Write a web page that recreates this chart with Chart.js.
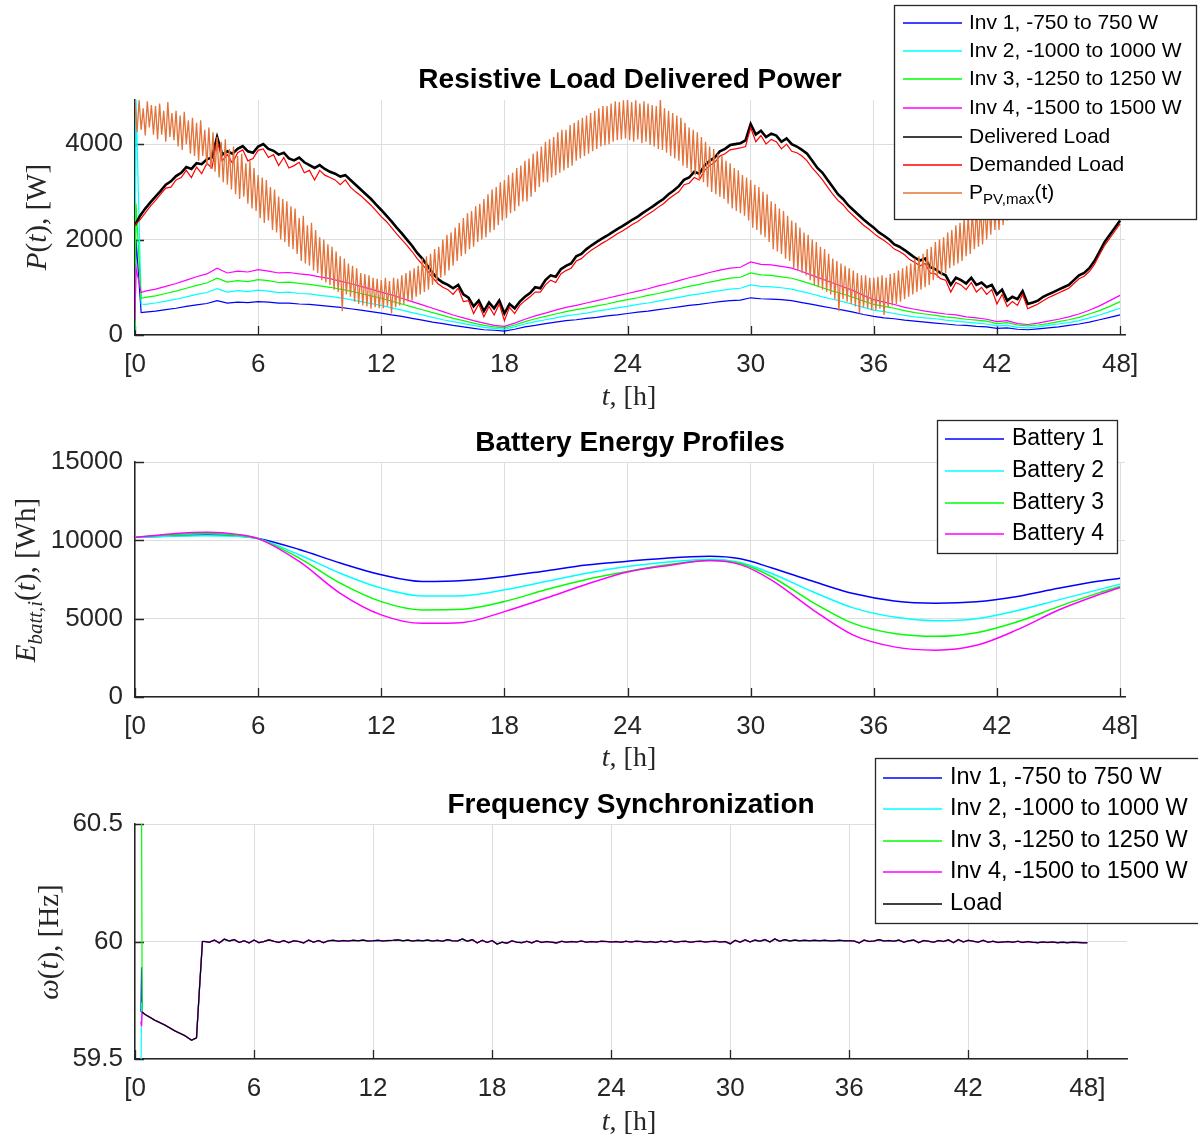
<!DOCTYPE html>
<html>
<head>
<meta charset="utf-8">
<script src="https://cdn.jsdelivr.net/npm/chart.js@4.4.1/dist/chart.umd.min.js"></script>
<style>
  body { margin: 0; background: #fff; width: 1198px; height: 1144px; position: relative; overflow: hidden; }
  canvas { position: absolute; left: 0; }
</style>
</head>
<body>
<canvas id="c1" width="1198" height="410" style="top:0px"></canvas>
<canvas id="c2" width="1198" height="365" style="top:410px"></canvas>
<canvas id="c3" width="1198" height="394" style="top:750px"></canvas>
<script>
// ---- axis ticks ----
const xTicks = [0, 6, 12, 18, 24, 30, 36, 42, 48];
const xTickLabels = ['[0', '6', '12', '18', '24', '30', '36', '42', '48]'];
const powerTicks = [0, 2000, 4000];
const energyTicks = [0, 5000, 10000, 15000];
const freqTicks = [59.5, 60, 60.5];
const freqTickLabels = ['59.5', '60', '60.5'];

// ---- chart 1: power [W] ----
// PV max power, every 0.1 h from t = 0
const pvStep = 0.1;
const pvMax = [
  4880, 4250, 4920, 4300, 4750, 4180, 4900, 4350, 4820, 4200,
  4800, 4100, 4850, 4200, 4700, 4050, 4880, 4150, 4650, 4080,
  4700, 3950, 4600, 3880, 4680, 4000, 4500, 3800, 4550, 3750,
  4450, 3650, 4500, 3750, 4300, 3550, 4350, 3480, 4250, 3420,
  4150, 3300, 4050, 3200, 4100, 3150, 3900, 3050, 3950, 2950,
  3750, 2850, 3800, 2900, 3600, 2750, 3650, 2650, 3500, 2600,
  3350, 2450, 3300, 2350, 3250, 2400, 3100, 2200, 3050, 2150,
  2900, 2000, 2850, 1950, 2800, 1850, 2700, 1800, 2650, 1700,
  2450, 1550, 2500, 1500, 2300, 1450, 2350, 1350, 2200, 1300,
  2050, 1150, 2000, 1100, 1900, 1050, 1850, 950, 1750, 900,
  1650, 500, 1600, 850, 1500, 800, 1450, 700, 1400, 650,
  1300, 620, 1280, 600, 1250, 550, 1200, 580, 1180, 560,
  1150, 560, 1200, 600, 1130, 450, 1200, 580, 1180, 620,
  1250, 650, 1300, 700, 1350, 720, 1400, 800, 1450, 850,
  1600, 900, 1650, 950, 1700, 1050, 1800, 1100, 1850, 1200,
  2000, 1250, 2100, 1350, 2150, 1450, 2250, 1550, 2350, 1650,
  2450, 1700, 2550, 1800, 2600, 1850, 2700, 1950, 2750, 2000,
  2850, 2050, 2950, 2150, 3050, 2200, 3100, 2300, 3200, 2400,
  3250, 2450, 3350, 2550, 3400, 2600, 3500, 2700, 3550, 2800,
  3650, 2800, 3700, 2900, 3800, 3000, 3850, 3100, 3950, 3200,
  4050, 3200, 4100, 3300, 4150, 3350, 4250, 3400, 4300, 3450,
  4300, 3500, 4400, 3550, 4450, 3650, 4500, 3700, 4550, 3750,
  4600, 3800, 4650, 3850, 4700, 3900, 4750, 3950, 4800, 3980,
  4800, 4000, 4850, 4050, 4900, 4080, 4880, 4100, 4920, 4120,
  4950, 4080, 4880, 4050, 4920, 4100, 4850, 4020, 4900, 4050,
  4850, 3980, 4820, 3950, 4800, 3900, 4950, 3880, 4750, 3820,
  4700, 3750, 4650, 3700, 4600, 3650, 4550, 3550, 4450, 3500,
  4350, 3400, 4300, 3350, 4250, 3250, 4150, 3200, 4050, 3100,
  3950, 3000, 3900, 2950, 3800, 2900, 3750, 2850, 3650, 2750,
  3600, 2650, 3500, 2600, 3450, 2550, 3350, 2500, 3300, 2400,
  3250, 2250, 3150, 2200, 3100, 2100, 3000, 2050, 2950, 1950,
  2800, 1800, 2750, 1750, 2650, 1700, 2600, 1600, 2500, 1550,
  2400, 1400, 2350, 1350, 2250, 1300, 2150, 1250, 2100, 1150,
  2000, 1050, 1950, 1000, 1850, 950, 1800, 900, 1700, 850,
  1600, 750, 1550, 500, 1500, 750, 1450, 700, 1400, 650,
  1350, 600, 1300, 450, 1250, 580, 1250, 550, 1200, 520,
  1200, 520, 1220, 550, 1250, 420, 1200, 580, 1280, 620,
  1300, 650, 1350, 700, 1400, 750, 1450, 800, 1500, 850,
  1600, 900, 1650, 950, 1700, 1000, 1800, 1050, 1850, 1150,
  1950, 1200, 2000, 1250, 2050, 1300, 2150, 1400, 2200, 1450,
  2300, 1500, 2350, 1550, 2450, 1650, 2500, 1700, 2600, 1800,
  2650, 1850, 2700, 1900, 2800, 2000, 2850, 2100, 2950, 2200,
  3000, 2200, 3100, 2300, 3150, 2400, 3250, 2450, 3300, 2550,
  3220, 2750, 3300, 2820, 3380, 2900, 3450, 2980, 3520, 3050,
  3580, 3100, 3650, 3180, 3720, 3250, 3800, 3320, 3880, 3400,
  3920, 3450, 4000, 3520, 4060, 3580, 4120, 3650, 4180, 3700,
  4220, 3750, 4280, 3800, 4330, 3850, 4380, 3900, 4430, 3950,
  4470, 4000, 4520, 4050, 4560, 4100, 4600, 4120, 4650, 4150,
  4680
];

// delivered and demanded load, every 0.25 h from t = 0
const loadStep = 0.25;
const deliveredLoad = [
  2300, 2500, 2650, 2780, 2900, 3020, 3150, 3220, 3330, 3400, 3520, 3480,
  3600, 3580, 3680, 3720, 4150, 3780, 3850, 3800, 3900, 3960, 3850, 3820,
  3950, 4000, 3900, 3860, 3780, 3820, 3700, 3660, 3720, 3620, 3560, 3500,
  3560, 3480, 3420, 3380, 3320, 3350, 3250, 3150, 3050, 2950, 2850, 2730,
  2620, 2500, 2380, 2250, 2130, 2000, 1870, 1720, 1600, 1450, 1300, 1180,
  1100, 1050, 980, 1050, 850, 780, 600, 720, 500, 680, 560, 720,
  450, 650, 560, 700, 800, 880, 1000, 980, 1150, 1250, 1220, 1380,
  1450, 1500, 1650, 1700, 1800, 1880, 1950, 2020, 2080, 2150, 2220, 2280,
  2350, 2420, 2480, 2560, 2630, 2700, 2780, 2850, 2950, 3030, 3120, 3250,
  3300, 3420, 3380, 3550, 3650, 3720, 3850, 3900, 3980, 4000, 4020, 4080,
  4420, 4200, 4280, 4150, 4220, 4180, 4050, 4120, 4000, 3950, 3880, 3800,
  3650, 3500, 3400, 3250, 3100, 2950, 2850, 2720, 2620, 2520, 2420, 2330,
  2250, 2150, 2080, 2000, 1900, 1850, 1780, 1700, 1620, 1560, 1600, 1420,
  1380, 1300, 1250, 1050, 1200, 1150, 1080, 1200, 1050, 1100, 1000, 1050,
  850, 950, 720, 800, 750, 920, 650, 680, 720, 800, 850, 900,
  950, 1000, 1050, 1150, 1250, 1300, 1400, 1550, 1750, 1950, 2100, 2250,
  2400
];
const demandedLoad = [
  2300, 2420, 2560, 2700, 2820, 2950, 3080, 3100, 3250, 3300, 3450, 3300,
  3520, 3380, 3600, 3500, 4100, 3650, 3780, 3600, 3820, 3880, 3650, 3700,
  3870, 3900, 3720, 3780, 3550, 3720, 3500, 3550, 3620, 3400, 3450, 3250,
  3450, 3350, 3300, 3250, 3150, 3250, 3100, 3000, 2920, 2820, 2720, 2600,
  2480, 2380, 2250, 2120, 2000, 1880, 1750, 1600, 1480, 1350, 1200, 1080,
  1000, 950, 850, 980, 700, 720, 450, 650, 380, 600, 420, 650,
  300, 580, 450, 620, 720, 800, 900, 900, 1050, 1150, 1100, 1280,
  1350, 1400, 1550, 1600, 1700, 1780, 1850, 1920, 1980, 2050, 2120, 2180,
  2250, 2320, 2380, 2460, 2530, 2600, 2680, 2750, 2850, 2930, 3000, 3150,
  3180, 3300, 3250, 3450, 3550, 3620, 3750, 3800, 3880, 3900, 3920, 3950,
  4350, 4050, 4180, 4000, 4100, 4050, 3900, 4000, 3850, 3820, 3750, 3650,
  3500, 3380, 3250, 3100, 2950, 2820, 2730, 2600, 2500, 2400, 2300, 2220,
  2130, 2050, 1980, 1900, 1800, 1750, 1680, 1580, 1520, 1450, 1500, 1300,
  1280, 1180, 1150, 900, 1100, 1050, 950, 1100, 900, 1000, 850, 950,
  650, 850, 600, 700, 620, 850, 550, 600, 650, 720, 780, 830,
  880, 930, 980, 1080, 1180, 1230, 1330, 1480, 1680, 1880, 2030, 2180,
  2330
];

// inverter power: start transient, then every 0.5 h from t = 0.5
const invStartT = [0, 0.05, 0.3];
const inv1Start = [100, 2000, 470];
const inv2Start = [100, 4950, 650];
const inv3Start = [100, 2750, 770];
const inv4Start = [300, 1400, 890];
const invStep = 0.5;
const inv1Power = [
  480, 500, 530, 560, 600, 630, 660, 720, 670, 690, 680, 700, 690, 670, 670, 650,
  640, 620, 600, 580, 550, 520, 490, 460, 420, 390, 350, 310, 270, 240, 200, 170,
  140, 110, 100, 80, 120, 170, 200, 240, 270, 300, 320, 350, 370, 400, 420, 450,
  480, 500, 530, 560, 590, 620, 640, 670, 700, 720, 730, 780, 760, 750, 740, 720,
  680, 640, 600, 560, 520, 480, 430, 390, 360, 340, 310, 290, 270, 250, 230, 210,
  200, 180, 170, 140, 150, 120, 110, 130, 150, 170, 200, 230, 270, 320, 370, 420
];
const inv2Power = [
  640, 670, 710, 750, 800, 850, 890, 970, 900, 930, 910, 940, 920, 890, 900, 870,
  860, 830, 810, 780, 740, 700, 660, 620, 570, 520, 470, 420, 370, 320, 280, 240,
  200, 160, 140, 120, 170, 230, 280, 320, 360, 400, 430, 460, 500, 530, 570, 600,
  640, 670, 710, 750, 790, 830, 860, 900, 930, 960, 980, 1050, 1020, 1010, 990, 960,
  910, 860, 800, 750, 700, 640, 580, 520, 490, 450, 410, 380, 360, 340, 310, 290,
  270, 250, 230, 190, 200, 160, 150, 170, 200, 230, 260, 300, 360, 420, 490, 560
];
const inv3Power = [
  790, 820, 870, 920, 980, 1040, 1090, 1190, 1110, 1140, 1120, 1160, 1140, 1100, 1110, 1080,
  1060, 1030, 1000, 960, 920, 870, 820, 770, 710, 650, 590, 530, 470, 410, 350, 300,
  250, 200, 170, 150, 210, 280, 340, 390, 440, 490, 530, 570, 610, 650, 700, 740,
  780, 830, 870, 920, 970, 1020, 1060, 1110, 1150, 1190, 1210, 1300, 1260, 1250, 1220, 1190,
  1130, 1060, 990, 920, 860, 790, 710, 640, 600, 560, 510, 470, 440, 410, 380, 360,
  330, 310, 290, 240, 260, 210, 190, 210, 240, 280, 320, 370, 440, 510, 600, 700
];
const inv4Power = [
  920, 960, 1020, 1080, 1150, 1220, 1280, 1400, 1300, 1340, 1320, 1370, 1340, 1300, 1310, 1280,
  1260, 1220, 1180, 1130, 1080, 1020, 960, 900, 840, 770, 700, 630, 560, 490, 420, 360,
  300, 250, 200, 180, 250, 330, 400, 460, 520, 580, 620, 670, 720, 770, 820, 870,
  920, 970, 1030, 1080, 1140, 1200, 1250, 1310, 1360, 1400, 1420, 1530, 1480, 1470, 1440, 1400,
  1330, 1250, 1170, 1090, 1010, 930, 830, 740, 690, 640, 580, 540, 500, 470, 440, 420,
  380, 360, 330, 280, 300, 240, 220, 250, 290, 330, 380, 440, 520, 610, 720, 830
];

// ---- chart 2: battery energy [Wh] ----
const batteryT = [0, 2, 3.5, 5, 6, 8, 10, 12, 14, 16, 18, 20, 22, 24, 26, 28, 29.5, 31, 33, 35, 37, 39, 41, 43, 45, 47, 48];
const battery1 = [10190, 10300, 10340, 10280, 10120, 9420, 8550, 7800, 7370, 7430, 7690, 8050, 8420, 8660, 8880, 8980, 8820, 8250, 7400, 6600, 6130, 5990, 6080, 6420, 6940, 7400, 7580];
const battery2 = [10190, 10270, 10300, 10260, 10110, 9080, 7900, 6950, 6450, 6470, 6840, 7370, 7900, 8330, 8620, 8800, 8580, 7900, 6730, 5690, 5100, 4870, 5000, 5520, 6200, 6870, 7200];
const battery3 = [10190, 10380, 10430, 10330, 10110, 8870, 7270, 6090, 5560, 5600, 6090, 6840, 7500, 8010, 8450, 8710, 8520, 7690, 6060, 4700, 4050, 3870, 4100, 4800, 5770, 6660, 7050];
const battery4 = [10190, 10440, 10510, 10380, 10110, 8650, 6620, 5240, 4700, 4760, 5450, 6300, 7200, 7980, 8400, 8720, 8450, 7480, 5600, 3950, 3200, 2990, 3300, 4300, 5550, 6550, 6990];

// ---- chart 3: frequency [Hz] ----
const freqSpikeT = [0.30, 0.33, 0.36];
const freqInv1Spike = [59.70, 59.89, 59.70];
const freqInv2Spike = [59.40, 59.74, 59.70];
const freqInv3Spike = [60.60, 60.60, 59.70];
const freqInv4Spike = [59.66, 59.64, 59.70];
const freqStartT = [0.36, 0.5, 1.0, 1.5, 2.0, 2.5, 2.85, 3.1, 3.25, 3.4];
const freqStart = [59.70, 59.69, 59.665, 59.645, 59.62, 59.60, 59.58, 59.59, 59.80, 60.00];
// steady part, every 0.25 h from t = 3.5
const freqStep = 0.25;
const freqSteady = [
  60.000, 59.997,
  60.006, 59.994, 60.010, 60.002, 60.008, 59.996, 60.003, 59.994,
  60.006, 59.995, 60.000, 60.007, 60.001, 59.996, 60.004, 59.995,
  60.003, 60.000, 59.994, 60.006, 59.997, 60.004, 59.995, 60.003,
  60.005, 60.001, 60.004, 60.002, 60.005, 60.003, 60.006, 60.002,
  60.003, 60.005, 60.002, 60.004, 60.005, 60.007, 60.003, 60.006,
  60.002, 60.005, 60.003, 60.006, 60.002, 60.005, 60.001, 60.008,
  60.003, 60.002, 60.011, 60.001, 60.008, 59.994, 60.005, 59.996,
  60.004, 59.989, 59.997, 59.993, 60.003, 59.997, 59.995, 60.001,
  59.994, 60.003, 59.996, 60.000, 59.997, 59.994, 60.001, 59.997,
  60.000, 59.998, 60.002, 59.997, 60.000, 59.998, 60.001, 60.000,
  59.998, 60.000, 59.997, 60.001, 59.998, 60.001, 60.000, 59.997,
  60.000, 59.996, 60.001, 59.998, 60.002, 59.997, 60.000, 60.001,
  59.997, 60.000, 60.001, 59.998, 60.000, 60.001, 59.998, 60.000,
  59.990, 60.005, 59.997, 60.007, 59.998, 60.006, 60.001, 60.008,
  59.998, 60.011, 60.001, 60.008, 60.002, 60.006, 60.003, 60.005,
  60.003, 60.005, 60.003, 60.005, 60.003, 60.003, 60.005, 60.003,
  60.003, 60.002, 59.994, 60.006, 60.000, 60.002, 60.008, 60.002,
  60.004, 60.001, 60.006, 59.997, 60.003, 60.006, 59.995, 60.004,
  60.001, 59.997, 60.004, 60.000, 60.007, 59.995, 60.008, 59.998,
  60.005, 60.001, 59.997, 60.005, 59.997, 60.001, 59.996, 59.998,
  60.000, 59.997, 60.001, 59.996, 60.000, 59.997, 59.995, 59.998,
  59.996, 59.998, 59.995, 59.997, 59.995, 59.997, 59.996, 59.995,
  59.995
];

// ---- helpers ----
const SANS = '"Liberation Sans", Arial, Helvetica, sans-serif';
const SERIF = '"Liberation Serif", "Times New Roman", serif';
const AXIS_COLOR = '#262626';

function series(t0, step, values) {
  return values.map((v, i) => ({ x: t0 + i * step, y: v }));
}
function pairs(times, values) {
  return times.map((t, i) => ({ x: t, y: values[i] }));
}

function line(label, data, color, width, order, extra) {
  return Object.assign({
    label: label, data: data, borderColor: color, backgroundColor: color,
    borderWidth: width, pointRadius: 0, fill: false, tension: 0, order: order
  }, extra || {});
}

function richText(ctx, parts, x, y, size, family, align) {
  const items = parts.map(p => {
    const s = (p.sub || p.sup) ? size * 0.72 : size;
    const font = (p.it ? 'italic ' : '') + s + 'px ' + family;
    ctx.font = font;
    return { t: p.t, font: font, w: ctx.measureText(p.t).width, dy: p.sub ? size * 0.33 : (p.sup ? -size * 0.35 : 0) };
  });
  const total = items.reduce((s, i) => s + i.w, 0);
  let cx = align === 'center' ? x - total / 2 : x;
  ctx.textAlign = 'left';
  ctx.textBaseline = 'middle';
  items.forEach(i => { ctx.font = i.font; ctx.fillText(i.t, cx, y + i.dy); cx += i.w; });
}

// the axis boxes get fixed sizes so the plot area lands where the figure has it
function xScale(max, boxHeight) {
  return {
    type: 'linear', min: 0, max: max,
    afterBuildTicks: a => { a.ticks = xTicks.map(v => ({ value: v })); },
    afterFit: a => { a.height = boxHeight; },
    ticks: {
      callback: v => xTickLabels[xTicks.indexOf(v)],
      color: AXIS_COLOR, font: { family: SANS, size: 26 }, padding: 14,
      maxRotation: 0, autoSkip: false
    },
    grid: { color: '#dedede', lineWidth: 1, drawTicks: false },
    border: { display: true, color: AXIS_COLOR, width: 1.5 }
  };
}
function yScale(min, max, tickVals, tickLabels) {
  return {
    type: 'linear', min: min, max: max,
    afterBuildTicks: a => { a.ticks = tickVals.map(v => ({ value: v })); },
    afterFit: a => { a.width = 135; },
    ticks: {
      callback: v => tickLabels ? tickLabels[tickVals.indexOf(v)] : String(v),
      color: AXIS_COLOR, font: { family: SANS, size: 26 }, padding: 12, autoSkip: false
    },
    grid: { color: '#dedede', lineWidth: 1, drawTicks: false },
    border: { display: true, color: AXIS_COLOR, width: 1.5 }
  };
}

// titles, axis labels, inner ticks and legend box
function decor(spec) {
  return {
    id: 'decor',
    beforeDatasetsDraw(chart) {
      const ctx = chart.ctx, a = chart.chartArea;
      const xs = chart.scales.x, ys = chart.scales.y;
      ctx.save();
      ctx.strokeStyle = AXIS_COLOR;
      ctx.lineWidth = 1.3;
      ctx.beginPath();
      xs.ticks.forEach(t => {
        const p = Math.round(xs.getPixelForValue(t.value)) + 0.5;
        ctx.moveTo(p, a.bottom); ctx.lineTo(p, a.bottom - 9);
      });
      ys.ticks.forEach(t => {
        const p = Math.round(ys.getPixelForValue(t.value)) + 0.5;
        ctx.moveTo(a.left, p); ctx.lineTo(a.left + 9, p);
      });
      ctx.stroke();
      ctx.restore();
    },
    afterDraw(chart) {
      const ctx = chart.ctx;
      ctx.save();
      // title
      ctx.fillStyle = '#000';
      ctx.font = 'bold 28px ' + SANS;
      ctx.textAlign = 'center';
      ctx.textBaseline = 'middle';
      ctx.fillText(spec.title, spec.titleX, spec.titleY);
      // x label
      ctx.fillStyle = AXIS_COLOR;
      richText(ctx, [{ t: 't', it: true }, { t: ', [h]' }], spec.xLabelX, spec.xLabelY, 28, SERIF, 'center');
      // y label
      ctx.save();
      ctx.translate(spec.yLabelX, spec.yLabelY);
      ctx.rotate(-Math.PI / 2);
      richText(ctx, spec.yLabel, 0, 0, 29, SERIF, 'center');
      ctx.restore();
      // legend
      const L = spec.legend;
      ctx.fillStyle = '#fff';
      ctx.fillRect(L.x, L.y, L.w, L.h);
      ctx.strokeStyle = AXIS_COLOR;
      ctx.lineWidth = 1.3;
      ctx.strokeRect(L.x + 0.5, L.y + 0.5, L.w, L.h);
      L.items.forEach((it, i) => {
        const y = L.rows[i];
        ctx.strokeStyle = it.color;
        ctx.lineWidth = it.width;
        ctx.beginPath();
        ctx.moveTo(L.lineX0, y); ctx.lineTo(L.lineX1, y);
        ctx.stroke();
        ctx.fillStyle = '#000';
        richText(ctx, it.parts, L.textX, y, L.size, SANS, 'left');
      });
      ctx.restore();
    }
  };
}

const baseOptions = (padding) => ({
  responsive: false, animation: false, events: [],
  layout: { padding: padding, autoPadding: false },
  plugins: { legend: { display: false }, tooltip: { enabled: false }, title: { display: false } }
});

// ---- chart 1 ----
const BLUE = '#0000ff', CYAN = '#00ffff', GREEN = '#00ff00', MAGENTA = '#ff00ff', ORANGE = '#e3733a';
const inv1Data = pairs(invStartT, inv1Start).concat(series(0.5, invStep, inv1Power));
const inv2Data = pairs(invStartT, inv2Start).concat(series(0.5, invStep, inv2Power));
const inv3Data = pairs(invStartT, inv3Start).concat(series(0.5, invStep, inv3Power));
const inv4Data = pairs(invStartT, inv4Start).concat(series(0.5, invStep, inv4Power));

new Chart(document.getElementById('c1').getContext('2d'), {
  type: 'line',
  data: {
    datasets: [
      line('Inv 1, -750 to 750 W', inv1Data, BLUE, 1.2, 6),
      line('Inv 2, -1000 to 1000 W', inv2Data, CYAN, 1.2, 5),
      line('Inv 3, -1250 to 1250 W', inv3Data, GREEN, 1.2, 4),
      line('Inv 4, -1500 to 1500 W', inv4Data, MAGENTA, 1.2, 3),
      line('Delivered Load', series(0, loadStep, deliveredLoad), '#000000', 2.6, 2),
      line('Demanded Load', series(0, loadStep, demandedLoad), '#ff0000', 1.2, 1),
      line('P_PV,max(t)', series(0, pvStep, pvMax), ORANGE, 1.3, 0)
    ]
  },
  options: Object.assign(baseOptions({ left: 0, right: 73, top: 100, bottom: 0 }), {
    scales: { x: xScale(48.24, 75), y: yScale(0, 4925, powerTicks) }
  }),
  plugins: [decor({
    title: 'Resistive Load Delivered Power', titleX: 630, titleY: 80,
    xLabelX: 629, xLabelY: 398,
    yLabel: [{ t: 'P', it: true }, { t: '(' }, { t: 't', it: true }, { t: '), [W]' }],
    yLabelX: 38, yLabelY: 217,
    legend: {
      x: 894, y: 5, w: 302, h: 214, lineX0: 903, lineX1: 962, textX: 969, size: 21,
      rows: [23, 51, 79, 108, 137, 165, 193],
      items: [
        { color: BLUE, width: 1.3, parts: [{ t: 'Inv 1, -750 to 750 W' }] },
        { color: CYAN, width: 1.3, parts: [{ t: 'Inv 2, -1000 to 1000 W' }] },
        { color: GREEN, width: 1.3, parts: [{ t: 'Inv 3, -1250 to 1250 W' }] },
        { color: MAGENTA, width: 1.3, parts: [{ t: 'Inv 4, -1500 to 1500 W' }] },
        { color: '#000', width: 1.3, parts: [{ t: 'Delivered Load' }] },
        { color: '#ff0000', width: 1.3, parts: [{ t: 'Demanded Load' }] },
        { color: ORANGE, width: 1.3, parts: [{ t: 'P' }, { t: 'PV,max', sub: true }, { t: '(t)' }] }
      ]
    }
  })]
});

// ---- chart 2 ----
const smooth = { cubicInterpolationMode: 'monotone' };
new Chart(document.getElementById('c2').getContext('2d'), {
  type: 'line',
  data: {
    datasets: [
      line('Battery 1', pairs(batteryT, battery1), BLUE, 1.5, 3, smooth),
      line('Battery 2', pairs(batteryT, battery2), CYAN, 1.5, 2, smooth),
      line('Battery 3', pairs(batteryT, battery3), GREEN, 1.5, 1, smooth),
      line('Battery 4', pairs(batteryT, battery4), MAGENTA, 1.5, 0, smooth)
    ]
  },
  options: Object.assign(baseOptions({ left: 0, right: 73, top: 52, bottom: 0 }), {
    scales: { x: xScale(48.24, 78), y: yScale(0, 15000, energyTicks) }
  }),
  plugins: [decor({
    title: 'Battery Energy Profiles', titleX: 630, titleY: 33,
    xLabelX: 629, xLabelY: 349,
    yLabel: [{ t: 'E', it: true }, { t: 'batt,i', it: true, sub: true }, { t: '(' }, { t: 't', it: true }, { t: '), [Wh]' }],
    yLabelX: 27, yLabelY: 170,
    legend: {
      x: 937, y: 10, w: 180, h: 133, lineX0: 945, lineX1: 1004, textX: 1012, size: 23,
      rows: [29, 61, 93, 124],
      items: [
        { color: BLUE, width: 1.5, parts: [{ t: 'Battery 1' }] },
        { color: CYAN, width: 1.5, parts: [{ t: 'Battery 2' }] },
        { color: GREEN, width: 1.5, parts: [{ t: 'Battery 3' }] },
        { color: MAGENTA, width: 1.5, parts: [{ t: 'Battery 4' }] }
      ]
    }
  })]
});

// ---- chart 3 ----
const loadFreqData = pairs(freqStartT, freqStart).concat(series(3.5, freqStep, freqSteady));
new Chart(document.getElementById('c3').getContext('2d'), {
  type: 'line',
  data: {
    datasets: [
      line('Inv 1, -750 to 750 W', pairs(freqSpikeT, freqInv1Spike).concat(loadFreqData), BLUE, 1.2, 4),
      line('Inv 2, -1000 to 1000 W', pairs(freqSpikeT, freqInv2Spike).concat(loadFreqData), CYAN, 1.2, 3),
      line('Inv 3, -1250 to 1250 W', pairs(freqSpikeT, freqInv3Spike).concat(loadFreqData), GREEN, 1.2, 2),
      line('Inv 4, -1500 to 1500 W', pairs(freqSpikeT, freqInv4Spike).concat(loadFreqData), MAGENTA, 1.4, 1),
      line('Load', loadFreqData, '#000000', 1.1, 0)
    ]
  },
  options: Object.assign(baseOptions({ left: 0, right: 71, top: 74, bottom: 0 }), {
    scales: { x: xScale(50, 85), y: yScale(59.5, 60.5, freqTicks, freqTickLabels) }
  }),
  plugins: [decor({
    title: 'Frequency Synchronization', titleX: 631, titleY: 55,
    xLabelX: 629, xLabelY: 373,
    yLabel: [{ t: 'ω', it: true }, { t: '(' }, { t: 't', it: true }, { t: '), [Hz]' }],
    yLabelX: 50, yLabelY: 192,
    legend: {
      x: 875, y: 8, w: 330, h: 165, lineX0: 883, lineX1: 942, textX: 950, size: 23.5,
      rows: [28, 59, 91, 122, 154],
      items: [
        { color: BLUE, width: 1.3, parts: [{ t: 'Inv 1, -750 to 750 W' }] },
        { color: CYAN, width: 1.3, parts: [{ t: 'Inv 2, -1000 to 1000 W' }] },
        { color: GREEN, width: 1.3, parts: [{ t: 'Inv 3, -1250 to 1250 W' }] },
        { color: MAGENTA, width: 1.3, parts: [{ t: 'Inv 4, -1500 to 1500 W' }] },
        { color: '#000', width: 1.3, parts: [{ t: 'Load' }] }
      ]
    }
  })]
});
</script>
</body>
</html>
